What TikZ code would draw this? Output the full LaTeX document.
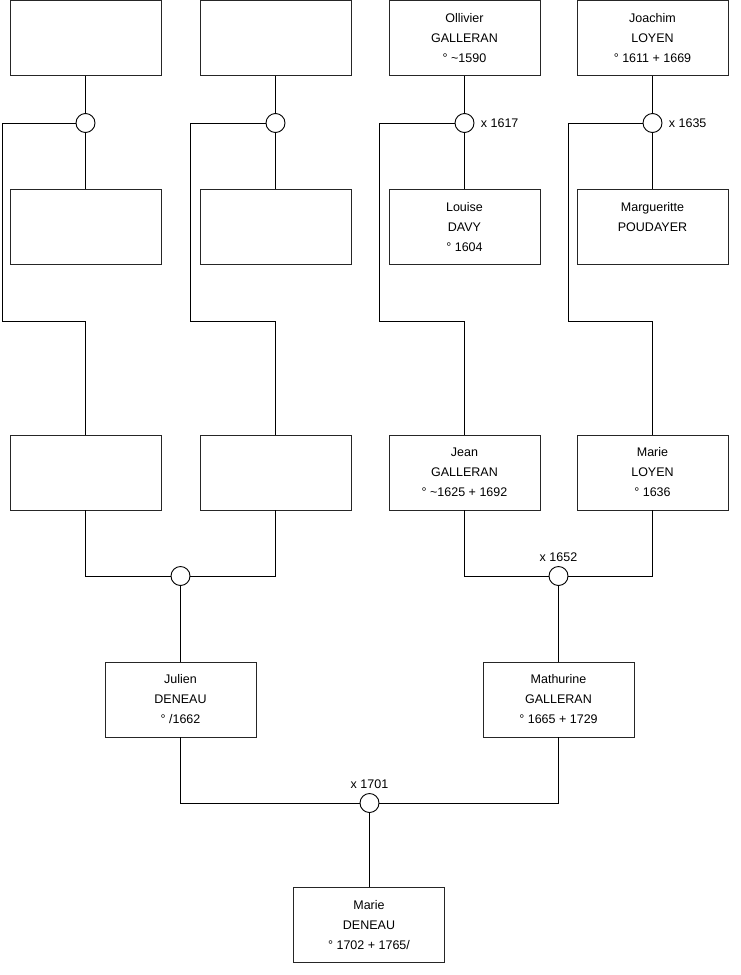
\documentclass[tikz,border=0pt]{standalone}
\usepackage{fontspec}
\setmainfont{Liberation Sans}
\begin{document}
\begin{tikzpicture}[x=1pt,y=-1pt,line width=0.9pt,
  box/.style={draw=black!85,fill=white,minimum width=151pt,minimum height=75pt,inner sep=0pt,align=center,font=\fontsize{12.5}{20}\selectfont},
  ring/.style={draw,circle,fill=white,minimum size=19pt,inner sep=0pt},
  lab/.style={font=\fontsize{12.5}{15}\selectfont,inner sep=1pt},
  conn/.style={draw=black,line width=0.9pt}]
\useasboundingbox (0,0) rectangle (740,975);
% row 1
\node[box] (a1) at (85.5,38) {};
\node[box] (b1) at (275.5,38) {};
\node[box] (c1) at (464.5,38) {Ollivier\\GALLERAN\\° \textasciitilde1590};
\node[box] (d1) at (652.5,38) {Joachim\\LOYEN\\° 1611 + 1669};
% rings row 1
\node[ring] (ra) at (85.5,123) {};
\node[ring] (rb) at (275.5,123) {};
\node[ring] (rc) at (464.5,123) {};
\node[ring] (rd) at (652.5,123) {};
\node[lab,anchor=west] (l1617) at ([xshift=5pt]rc.east) {x 1617};
\node[lab,anchor=west] (l1635) at ([xshift=5pt]rd.east) {x 1635};
% row 2
\node[box] (a2) at (85.5,227) {};
\node[box] (b2) at (275.5,227) {};
\node[box] (c2) at (464.5,227) {Louise\\DAVY\\° 1604};
\node[box] (d2) at (652.5,227) {Margueritte\\POUDAYER\\\mbox{}};
% row 3
\node[box] (a3) at (85.5,472.5) {};
\node[box] (b3) at (275.5,472.5) {};
\node[box] (c3) at (464.5,472.5) {Jean\\GALLERAN\\° \textasciitilde1625 + 1692};
\node[box] (d3) at (652.5,472.5) {Marie\\LOYEN\\° 1636};
% rings row 3
\node[ring] (r3a) at (180.5,576) {};
\node[ring] (r3b) at (558.5,576) {};
\node[lab,anchor=south] (l1652) at ([yshift=3pt]r3b.north) {x 1652};
% row 4
\node[box] (j4) at (180.5,699.5) {Julien\\DENEAU\\° /1662};
\node[box] (m4) at (558.5,699.5) {Mathurine\\GALLERAN\\° 1665 + 1729};
\node[ring] (r4) at (369.5,803) {};
\node[lab,anchor=south] (l1701) at ([yshift=3pt]r4.north) {x 1701};
% row 5
\node[box] (m5) at (369,925) {Marie\\DENEAU\\° 1702 + 1765/};
% corner coordinates
\coordinate (ka) at (2,321);
\coordinate (kb) at (190,321);
\coordinate (kc) at (379,321);
\coordinate (kd) at (568,321);
% connectors
\draw[conn] (a1) -- (ra);
\draw[conn] (ra) -- (a2);
\draw[conn] (b1) -- (rb);
\draw[conn] (rb) -- (b2);
\draw[conn] (c1) -- (rc);
\draw[conn] (rc) -- (c2);
\draw[conn] (d1) -- (rd);
\draw[conn] (rd) -- (d2);
\draw[conn] (ra) -| (ka) -| (a3.north);
\draw[conn] (rb) -| (kb) -| (b3.north);
\draw[conn] (rc) -| (kc) -| (c3.north);
\draw[conn] (rd) -| (kd) -| (d3.north);
\draw[conn] (a3) |- (r3a);
\draw[conn] (b3) |- (r3a);
\draw[conn] (r3a) -- (j4);
\draw[conn] (c3) |- (r3b);
\draw[conn] (d3) |- (r3b);
\draw[conn] (r3b) -- (m4);
\draw[conn] (j4) |- (r4);
\draw[conn] (m4) |- (r4);
\draw[conn] (r4) -- (m5.north -| r4);
\end{tikzpicture}
\end{document}
